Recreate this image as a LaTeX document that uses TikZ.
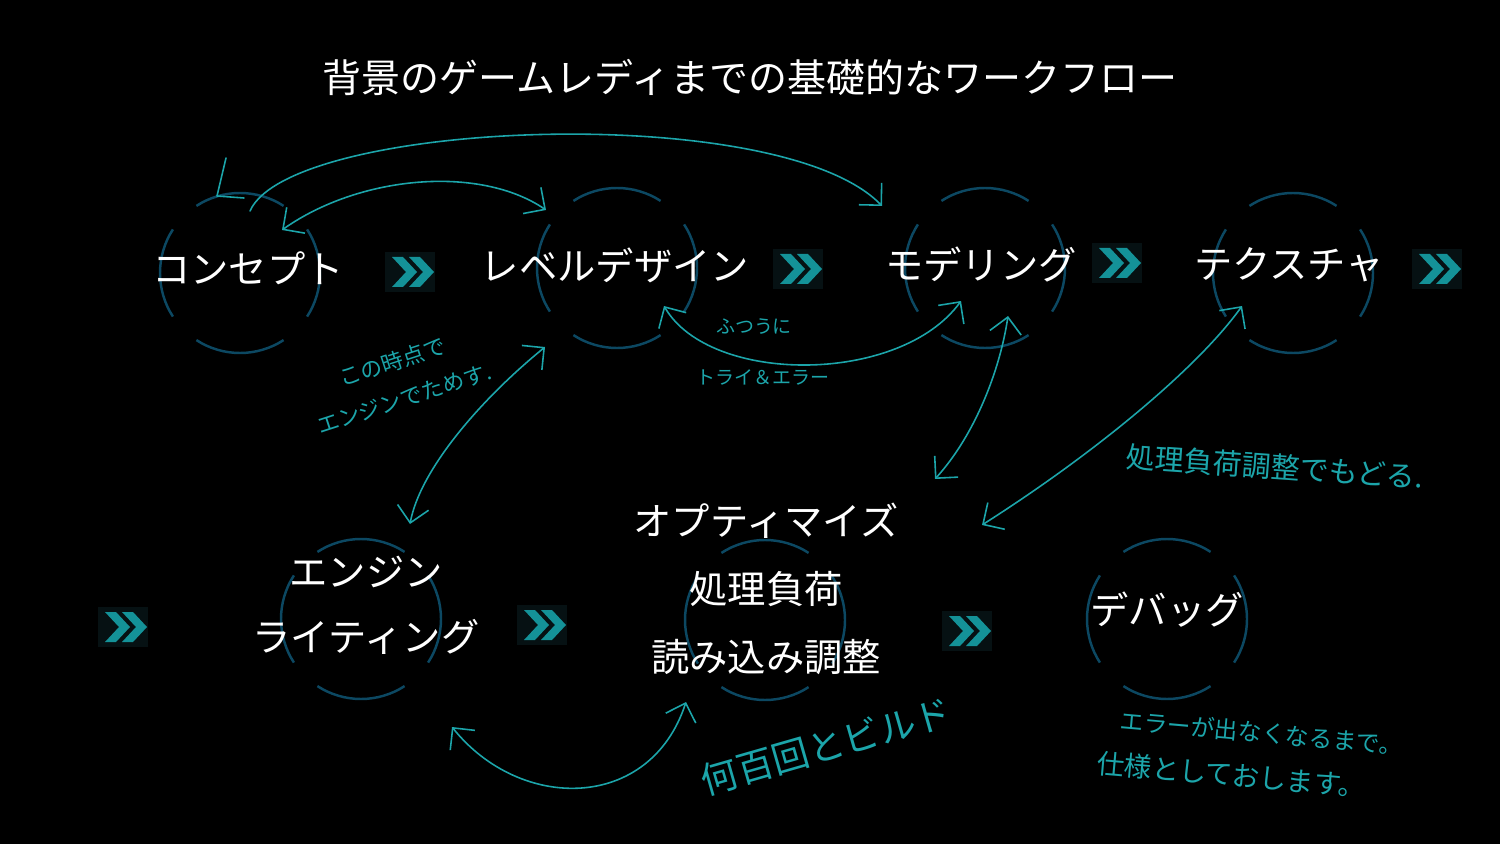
\documentclass[tikz,border=0pt]{standalone}
\usepackage{fontspec}
\usetikzlibrary{arrows.meta}
\newfontfamily\jp{Noto Sans CJK JP}

\definecolor{ringblue}{RGB}{12,72,98}
\definecolor{chevteal}{RGB}{20,146,152}
\definecolor{chevbox}{RGB}{6,17,19}
\definecolor{handteal}{RGB}{28,165,170}

\tikzset{
  ring/.pic={
    \foreach \a in {0,90,180,270}
      \draw[ringblue, line width=1.4pt] (\a-33:80) arc[start angle=\a-33, end angle=\a+33, radius=80];
  },
  chevrons/.pic={
    \fill[chevbox] (-25,-20) rectangle (25,20);
    \foreach \dx in {0,17}
      \fill[chevteal, shift={(\dx,0)}] (-18,-15) -- (-7,-15) -- (7,0) -- (-7,15) -- (-18,15) -- (-4,0) -- cycle;
  },
  stagetext/.style={text=white, font=\jp\fontsize{21.8}{26}\selectfont, align=center, inner sep=0pt},
  note/.style={text=handteal, inner sep=0pt},
  hand/.style={handteal, line width=0.9pt, line cap=round, line join=round},
  barb/.tip={Straight Barb[length=9pt,width=18pt]}
}

\begin{document}
\begin{tikzpicture}[x=0.02cm, y=-0.02cm]
  \fill[black] (0,0) rectangle (1500,844);
  \useasboundingbox (0,0) rectangle (1500,844);

  \node[text=white, font=\jp\fontsize{22.2}{26}\selectfont, inner sep=0pt] (title) at (750,77) {背景のゲームレディまでの基礎的なワークフロー};

  % rings
  \pic at (240,273) {ring};
  \pic at (617,268) {ring};
  \pic at (985,268) {ring};
  \pic at (1293,273) {ring};
  \pic at (361,619) {ring};
  \pic at (765,620) {ring};
  \pic at (1167,619) {ring};

  % stages
  \node[stagetext] (concept) at (248,268) {コンセプト};
  \node[stagetext] (leveldesign) at (615,265) {レベルデザイン};
  \node[stagetext] (modeling) at (981,265) {モデリング};
  \node[stagetext] (texture) at (1289,265) {テクスチャ};
  \node[stagetext, font=\jp\fontsize{21.8}{37}\selectfont] (engine) at (366,605) {エンジン\\ライティング};
  \node[stagetext, font=\jp\fontsize{21.8}{38.7}\selectfont] (optimize) at (766,589) {オプティマイズ\\処理負荷\\読み込み調整};
  \node[stagetext] (debug) at (1167,610) {デバッグ};

  % next marks
  \pic at (410,272) {chevrons};
  \pic at (798,269) {chevrons};
  \pic at (1117,263) {chevrons};
  \pic at (1437,269) {chevrons};
  \pic at (123,627) {chevrons};
  \pic at (542,625) {chevrons};
  \pic at (967,631) {chevrons};

  % hand drawn arrows
  \coordinate (a1) at (250,211);
  \coordinate (a2) at (882,206);
  \coordinate (b1) at (282,230);
  \coordinate (b2) at (546,210);
  \coordinate (d1) at (664,306);
  \coordinate (d2) at (961,301);
  \coordinate (e1) at (1008,316);
  \coordinate (e2) at (935,479);
  \coordinate (f1) at (1242,306);
  \coordinate (f2) at (982,525);
  \coordinate (g1) at (545,347);
  \coordinate (g2) at (410,524);
  \coordinate (h1) at (452,727);
  \coordinate (h2) at (686,702);

  \draw[hand, -barb] (a1) .. controls (290,120) and (780,100) .. (a2);
  \draw[hand] (226,158) -- (217,196) -- (244,198);
  \draw[hand, barb-barb] (b1) .. controls (360,175) and (480,165) .. (b2);
  \draw[hand, barb-barb] (d1) .. controls (710,385) and (900,385) .. (d2);
  \draw[hand, barb-barb] (e1) .. controls (1000,370) and (975,435) .. (e2);
  \draw[hand, barb-barb] (f1) .. controls (1200,365) and (1100,450) .. (f2);
  \draw[hand, barb-barb] (g1) .. controls (480,400) and (420,470) .. (g2);
  \draw[hand, barb-barb] (h1) .. controls (520,812) and (650,812) .. (h2);

  % hand notes
  \node[note, font=\jp\fontsize{12.5}{22}\selectfont, align=center, rotate=18] (n1) at (398,380) {この時点で\\エンジンでためす.};
  \node[note, font=\jp\fontsize{10.8}{13}\selectfont] (n3) at (754,327) {ふつうに};
  \node[note, font=\jp\fontsize{10.8}{13}\selectfont] (n4) at (763,377) {トライ＆エラー};
  \node[note, font=\jp\fontsize{16.5}{20}\selectfont, rotate=-4] (n5) at (1275,467) {処理負荷調整でもどる.};
  \node[note, font=\jp\fontsize{21}{25}\selectfont, rotate=16] (n6) at (826,746) {何百回とビルド};
  \node[note, font=\jp\fontsize{13.5}{26}\selectfont, align=left, rotate=-5] (n7) at (1250,755) {\hspace{0.8em}エラーが出なくなるまで。\\{\fontsize{15.6}{26}\selectfont 仕様としておします。}};
\end{tikzpicture}
\end{document}
